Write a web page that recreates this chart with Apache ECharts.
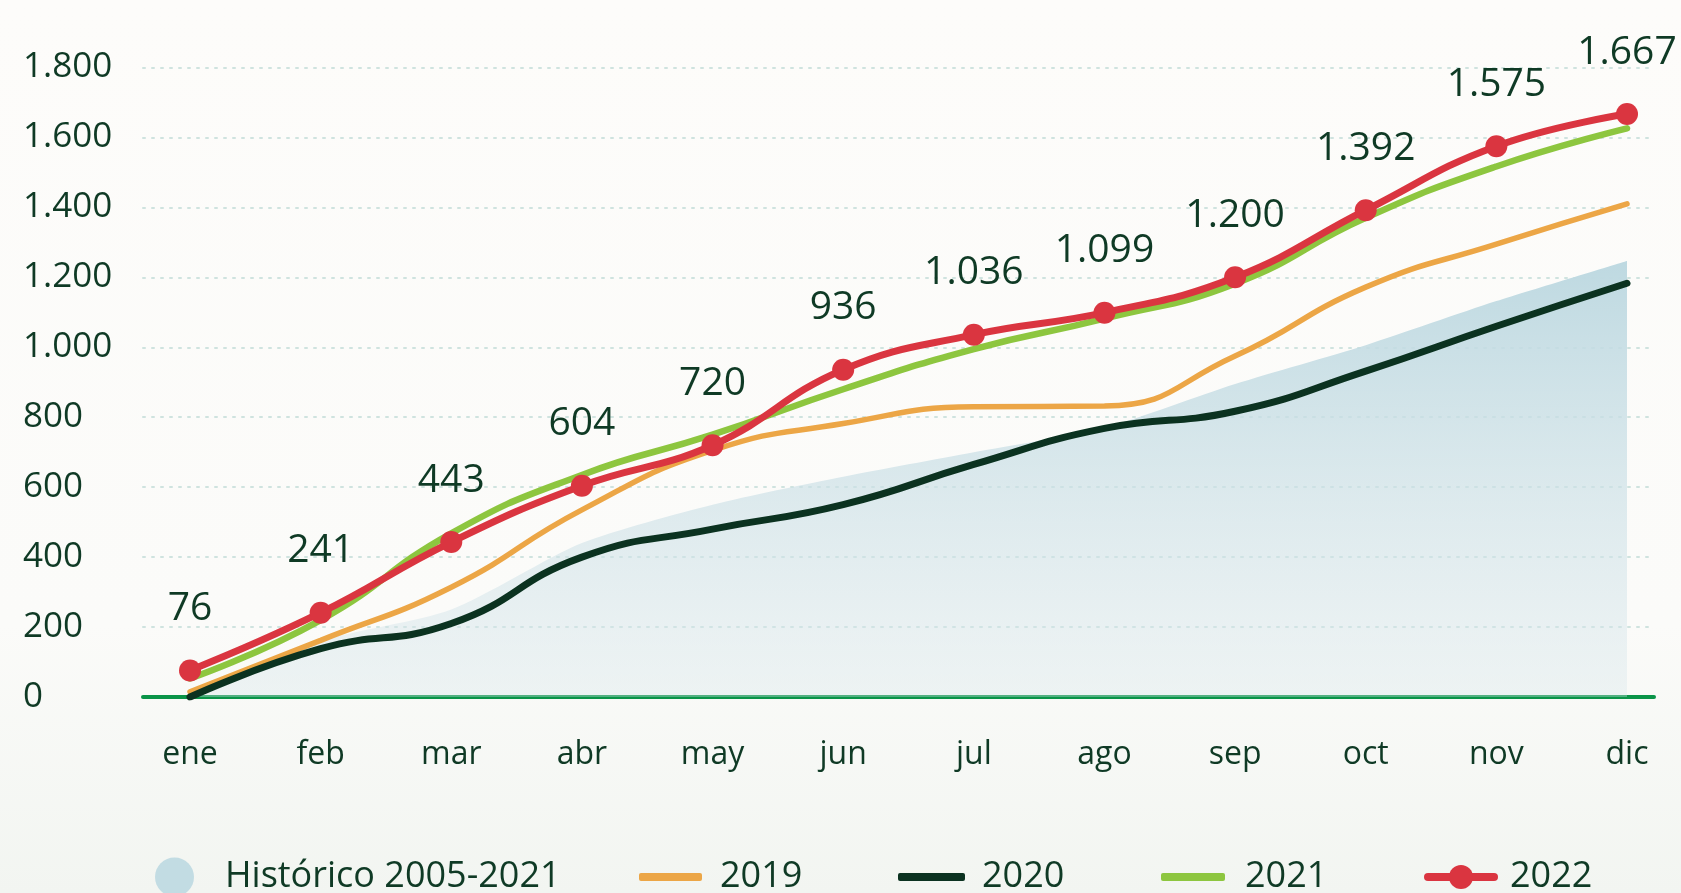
<!DOCTYPE html>
<html>
<head>
<meta charset="utf-8">
<script src="https://cdn.jsdelivr.net/npm/echarts@6/dist/echarts.min.js"></script>
<style>
  html, body { margin: 0; padding: 0; width: 1681px; height: 893px; overflow: hidden; }
  #chart { width: 1681px; height: 893px; }
</style>
</head>
<body>
<div id="chart"></div>
<script>
// ---- data ----
const months = ['ene', 'feb', 'mar', 'abr', 'may', 'jun', 'jul', 'ago', 'sep', 'oct', 'nov', 'dic'];
const historico = [10, 160, 250, 440, 550, 630, 700, 770, 895, 1006, 1132, 1247];
const y2019 = [15, 162, 314, 535, 705, 782, 830, 832, 975, 1172, 1295, 1410];
const y2020 = [0, 138, 210, 400, 480, 550, 665, 768, 817, 932, 1060, 1183];
const y2021 = [53, 220, 468, 635, 750, 880, 995, 1082, 1182, 1370, 1517, 1626];
const y2022 = [76, 241, 443, 604, 720, 936, 1036, 1099, 1200, 1392, 1575, 1667];
const seriesNames = ['Histórico 2005-2021', '2019', '2020', '2021', '2022'];
const yMin = 0, yMax = 1800, yStep = 200;

// ---- style ----
const TXT = '#0f3a25';
const FONT = '"Open Sans", "Noto Sans", sans-serif';
const fmt = v => String(v).replace(/\B(?=(\d{3})+(?!\d))/g, '.');

const chart = echarts.init(document.getElementById('chart'), null, { renderer: 'canvas' });

const legendBase = {
  top: 857, padding: 0, orient: 'horizontal',
  textStyle: { color: TXT, fontSize: 36, fontFamily: FONT, lineHeight: 40 }
};

const option = {
  animation: false,
  backgroundColor: {
    type: 'linear', x: 0, y: 0, x2: 0, y2: 1,
    colorStops: [
      { offset: 0, color: '#fdfcfa' },
      { offset: 0.7, color: '#fbfbf9' },
      { offset: 1, color: '#f2f5f1' }
    ]
  },
  grid: [
    { left: 143, right: 27, top: 67.5, bottom: 196 },
    { left: 190, right: 54, top: 67.5, bottom: 196 }
  ],
  xAxis: [
    {
      gridIndex: 0, type: 'value', min: 0, max: 1,
      axisLine: { show: true, lineStyle: { color: '#0a9448', width: 4, cap: 'round' } },
      axisTick: { show: false }, axisLabel: { show: false }, splitLine: { show: false }
    },
    {
      gridIndex: 1, type: 'category', data: months, boundaryGap: false,
      axisLine: { show: false }, axisTick: { show: false },
      axisLabel: { color: TXT, fontSize: 32, fontFamily: FONT, margin: 42 },
      splitLine: { show: false }
    }
  ],
  yAxis: [
    {
      gridIndex: 0, type: 'value', min: yMin, max: yMax, interval: yStep,
      axisLine: { show: false }, axisTick: { show: false },
      axisLabel: { color: TXT, fontSize: 35, fontFamily: FONT, align: 'left', margin: 120, formatter: fmt },
      splitLine: { show: true, lineStyle: { color: '#cfe3df', width: 2, type: [2, 7], cap: 'round' } }
    },
    {
      gridIndex: 1, type: 'value', min: yMin, max: yMax, interval: yStep, show: false,
      splitLine: { show: false }
    }
  ],
  legend: [
    Object.assign({}, legendBase, {
      left: 155, itemWidth: 39, itemHeight: 39,
      data: [{ name: seriesNames[0], icon: 'circle', itemStyle: { color: '#c2dce3' } }],
      textStyle: Object.assign({}, legendBase.textStyle, { padding: [0, 0, 0, 26] })
    }),
    Object.assign({}, legendBase, {
      left: 639, itemWidth: 63, itemHeight: 8,
      data: [{ name: seriesNames[1], icon: 'roundRect', itemStyle: { color: '#eca646' } }],
      textStyle: Object.assign({}, legendBase.textStyle, { padding: [0, 0, 0, 13] })
    }),
    Object.assign({}, legendBase, {
      left: 898, itemWidth: 67, itemHeight: 8,
      data: [{ name: seriesNames[2], icon: 'roundRect', itemStyle: { color: '#0b3220' } }],
      textStyle: Object.assign({}, legendBase.textStyle, { padding: [0, 0, 0, 12] })
    }),
    Object.assign({}, legendBase, {
      left: 1161, itemWidth: 64, itemHeight: 8,
      data: [{ name: seriesNames[3], icon: 'roundRect', itemStyle: { color: '#8dc63f' } }],
      textStyle: Object.assign({}, legendBase.textStyle, { padding: [0, 0, 0, 15] })
    }),
    Object.assign({}, legendBase, {
      left: 1424, itemWidth: 66, itemHeight: 30,
      lineStyle: { width: 8, cap: 'round' },
      data: [{ name: seriesNames[4] }],
      textStyle: Object.assign({}, legendBase.textStyle, { padding: [0, 0, 0, 11] })
    })
  ],
  series: [
    {
      name: seriesNames[0], type: 'line', xAxisIndex: 1, yAxisIndex: 1,
      data: historico, smooth: 0.25, symbol: 'none',
      color: '#c2dce3',
      lineStyle: { width: 0 },
      areaStyle: {
        opacity: 1,
        color: {
          type: 'linear', x: 0, y: 0, x2: 0, y2: 1,
          colorStops: [
            { offset: 0, color: 'rgba(190,217,225,1)' },
            { offset: 1, color: 'rgba(215,230,235,0.35)' }
          ]
        }
      },
      z: 1
    },
    {
      name: seriesNames[1], type: 'line', xAxisIndex: 1, yAxisIndex: 1,
      data: y2019, smooth: 0.5, symbol: 'none',
      color: '#eca646', lineStyle: { width: 5.5, cap: 'round' }, z: 2
    },
    {
      name: seriesNames[2], type: 'line', xAxisIndex: 1, yAxisIndex: 1,
      data: y2020, smooth: 0.5, symbol: 'none',
      color: '#0b3220', lineStyle: { width: 7, cap: 'round' }, z: 3
    },
    {
      name: seriesNames[3], type: 'line', xAxisIndex: 1, yAxisIndex: 1,
      data: y2021, smooth: 0.5, symbol: 'none',
      color: '#8dc63f', lineStyle: { width: 6.5, cap: 'round' }, z: 4
    },
    {
      name: seriesNames[4], type: 'line', xAxisIndex: 1, yAxisIndex: 1,
      data: y2022, smooth: 0.45,
      symbol: 'circle', symbolSize: 22, showSymbol: true,
      color: '#da3540', lineStyle: { width: 7, cap: 'round' },
      label: {
        show: true, position: 'top', distance: 31,
        color: TXT, fontSize: 39, fontFamily: FONT,
        formatter: p => fmt(p.value)
      },
      z: 5
    }
  ]
};
chart.setOption(option);
</script>
</body>
</html>
